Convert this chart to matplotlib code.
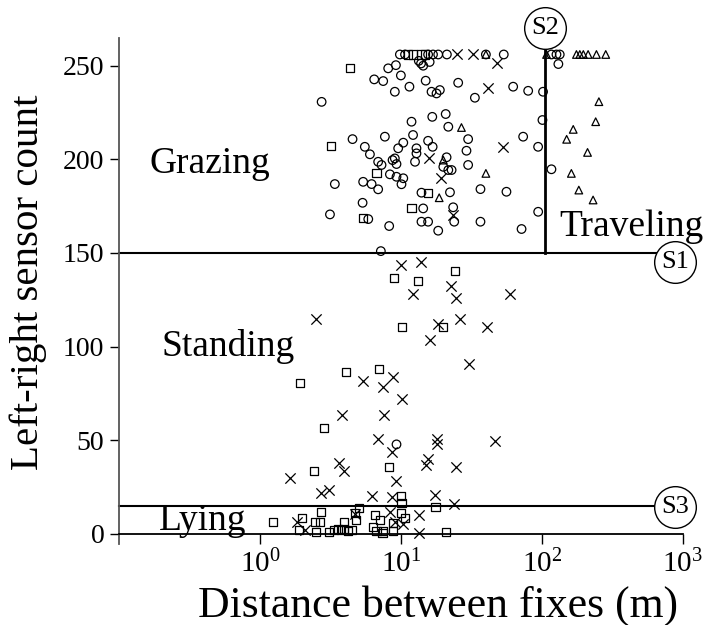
import matplotlib
matplotlib.use("Agg")
import matplotlib.pyplot as plt

plt.rcParams['font.family'] = ['Liberation Serif', 'DejaVu Serif']
plt.rcParams['mathtext.fontset'] = 'custom'
plt.rcParams['mathtext.rm'] = 'Liberation Serif'

# grazing (circles)
grazing_dist = [9.84, 10.7, 15.6, 16.9, 18.4, 21.2, 40.1, 53.7, 117, 127, 134,
                8.13, 9.22, 7.49, 6.47, 10.0, 11.5, 9.06, 15.0, 13.9, 14.4, 13.4, 16.0,
                25.5, 16.5, 17.9, 18.9, 2.74, 62.6, 80, 102, 33.5, 11.9, 16.7, 20.8,
                101, 21.7, 30.0, 73.7, 94.1, 29.2, 30.0, 117, 56.1, 36.7, 94.2, 71.8,
                36.7, 23.9, 23.5, 18.4, 15.6, 14.0, 14.4, 14.0, 22.3, 22.9, 21.7, 20.0,
                21.1, 12.9, 12.6, 12.9, 15.6, 16.8, 12.2, 7.70, 10.4, 9.57, 9.06, 8.73,
                9.31, 6.90, 7.29, 6.03, 5.55, 4.54, 3.40, 5.40, 6.20, 6.90, 8.36, 9.31,
                10.4, 10.1, 5.35, 3.14, 5.87, 8.26, 7.21, 131, 9.31]
grazing_count = [256, 256, 256, 256, 256, 256, 256, 256, 256, 256, 256,
                 248.6, 250.3, 241.8, 242.7, 244.8, 238.8, 236.1, 242, 251.2, 250, 252.6, 252,
                 240.9, 236.1, 235.2, 237, 230.7, 238.8, 236.6, 236.1, 232.9, 220.1, 222.7, 224.2,
                 221, 217.4, 210.8, 212.1, 206.7, 204.6, 197, 194.7, 182.7, 184.1, 172, 162.8,
                 166.7, 166.7, 174.4, 161.9, 166.7, 166.7, 173.8, 182.2, 182.4, 194.3, 194.3, 196,
                 201.1, 203.2, 198.7, 205.9, 209.9, 206.7, 213, 212.1, 208.9, 205.9, 200.5, 199.6,
                 197.5, 198.7, 197, 202.7, 206.7, 210.8, 186.8, 188, 186.8, 184, 192, 190.7,
                 189.9, 186.7, 176.8, 170.6, 168.1, 164.4, 151, 250.9, 47.8]

# lying (squares)
lying_dist = [11.3, 12.2, 14.0, 14.8, 4.35, 3.19, 6.72, 5.40, 11.9, 15.6,
              8.92, 13.3, 24.1, 10.2, 20.0, 1.92, 4.07, 7.02, 2.86, 2.43, 8.26,
              9.95, 10.1, 17.6,
              1.24, 2.0, 1.90, 2.45, 2.50, 2.71, 2.66, 3.10, 3.37, 3.56, 3.75, 3.96,
              4.23, 4.47, 3.94, 4.80, 4.72, 5.06, 6.54, 6.30, 6.72, 7.10, 7.49, 8.73,
              8.73, 10.0, 10.7, 20.8, 7.41]
lying_count = [256, 256, 256, 256, 248.6, 207.1, 192.8, 168.8, 173.8, 182.2,
               136.5, 135, 140.4, 110.6, 110.6, 80.4, 86.6, 87.9, 56.4, 33.6, 35.9,
               20.4, 16.3, 14.5,
               6.2, 8.6, 2.1, 6.5, 1.2, 11.9, 6.5, 1.2, 2.1, 2.6, 2.1, 2.6,
               1.5, 2.1, 6.5, 7.4, 11, 13.7, 10.1, 3.8, 1.5, 7.4, 1.5, 5.7,
               1.5, 11.3, 8.3, 1.2, 0.3]

# standing (crosses)
standing_dist = [24.9, 32.4, 47.7, 41.6, 53.2, 23.3, 19.4, 15.9,
                 2.50, 10.0, 13.9, 22.5, 12.1, 24.5, 59.3, 18.4, 26.2, 40.5, 16.2, 30.4,
                 5.35, 8.83, 7.49, 10.2, 3.84, 7.57, 6.83, 8.59, 18.1, 17.9, 15.6, 15.0,
                 24.8, 3.64, 3.96, 1.63, 9.31, 2.71, 3.10, 6.20, 8.59, 17.6, 23.8, 46.4,
                 1.84, 2.09, 4.72, 8.36, 9.06, 10.4, 13.4, 13.4]
standing_count = [256, 256, 251.2, 237.9, 206.7, 170.3, 189.9, 200.9,
                  114.6, 143.6, 145, 132.5, 127.9, 126.1, 128.1, 111.9, 114.7, 110.6, 103.5, 90.7,
                  81.6, 83.9, 78.6, 72, 63.5, 63.5, 50.5, 43.9, 50.5, 47.8, 40, 36.8,
                  35.6, 37.7, 33.6, 29.7, 28.3, 21.7, 23.4, 20.4, 19.9, 20.8, 15.8, 49.8,
                  6.5, 2.1, 10.5, 11.5, 6.5, 5.1, 10.1, 0.3]

# traveling (triangles)
traveling_dist = [40.1, 108, 176, 186, 197, 213, 244, 284,
                  26.9, 40.1, 18.7, 20.0, 254, 241, 167, 150, 211, 162, 183, 231]
traveling_count = [256, 256, 256, 256, 256, 256, 256, 256,
                   217, 192.5, 179.5, 199.6, 230.8, 220.1, 216, 210.7, 203.7, 192.5, 183.6, 178.3]

# thresholds
s1_count = 150
s2_dist = 105
s3_count = 15

fig = plt.figure(figsize=(7.21, 6.25), dpi=100)
ax = fig.add_axes([0.165, 0.1296, 0.782, 0.809])
ax.set_xscale('log')
ax.set_xlim(0.1, 1000)
ax.set_ylim(-5.4, 264.6)

ax.scatter(grazing_dist, grazing_count, s=38, marker='o', facecolors='none',
           edgecolors='black', linewidths=0.9, zorder=3)
ax.scatter(lying_dist, lying_count, s=34, marker='s', facecolors='none',
           edgecolors='black', linewidths=0.9, zorder=3)
ax.scatter(standing_dist, standing_count, s=55, marker='x', c='black',
           linewidths=0.9, zorder=3)
ax.scatter(traveling_dist, traveling_count, s=30, marker='^', facecolors='none',
           edgecolors='black', linewidths=0.9, zorder=3)

# decision lines
s_pos_x = 877
s2_top = 270
ax.plot([0.1, s_pos_x], [s1_count, s1_count], color='black', lw=1.5, zorder=2, clip_on=False)
ax.plot([0.1, s_pos_x], [s3_count, s3_count], color='black', lw=1.5, zorder=2, clip_on=False)
ax.plot([s2_dist, s2_dist], [s1_count, s2_top], color='black', lw=2, zorder=2, clip_on=False)

for lx, ly, lab in [(s_pos_x, s1_count - 4.7, 'S1'), (s2_dist, s2_top, 'S2'),
                    (s_pos_x, s3_count - 0.5, 'S3')]:
    ax.plot([lx], [ly], marker='o', ms=30, mfc='white', mec='black', mew=1.0,
            zorder=5, clip_on=False)
    ax.text(lx, ly, lab, ha='center', va='center', fontsize=19, zorder=6)

# region labels
ax.text(0.166, 192.8, 'Grazing', fontsize=27, va='baseline')
ax.text(0.201, 95.0, 'Standing', fontsize=27, va='baseline')
ax.text(134, 159, 'Traveling', fontsize=27, va='baseline')
ax.text(0.193, 2.1, 'Lying', fontsize=27, va='baseline')

ax.spines['top'].set_visible(False)
ax.spines['right'].set_visible(False)
ax.spines['bottom'].set_position(('data', 0))
ax.spines['left'].set_color('#555555')
ax.spines['left'].set_linewidth(1.3)
ax.spines['bottom'].set_linewidth(1.3)

ax.set_xticks([1, 10, 100, 1000])
ax.xaxis.set_minor_locator(matplotlib.ticker.NullLocator())
ax.set_yticks([0, 50, 100, 150, 200, 250])
ax.tick_params(axis='x', length=7.5, width=1, labelsize=21, pad=4)
ax.tick_params(axis='y', length=6.5, width=1, labelsize=20, pad=4)

ax.set_xlabel('Distance between fixes (m)', fontsize=31.5, va='center')
ax.xaxis.set_label_coords(0.565, -0.121)
ax.set_ylabel('Left-right sensor count', fontsize=29.5, va='center')
ax.yaxis.set_label_coords(-0.161, 0.518)

fig.savefig('out.png', dpi=100)
